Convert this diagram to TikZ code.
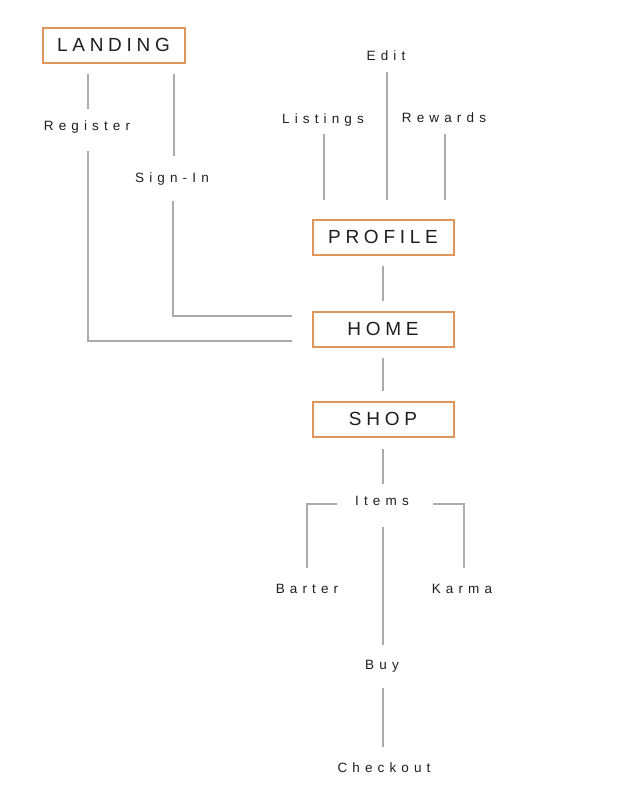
\documentclass[tikz,border=0pt]{standalone}
\usepackage{fontspec}
\setmainfont{Liberation Sans}
\newfontfamily\pagefont[LetterSpace=25]{Liberation Sans}
\newfontfamily\linkfont[LetterSpace=38]{Liberation Sans}
\usetikzlibrary{positioning}
\definecolor{boxorange}{HTML}{E0955A}
\definecolor{linkgray}{HTML}{ABABAB}
\definecolor{inkgray}{HTML}{1E1E1E}

\begin{document}
\begin{tikzpicture}[x=1pt,y=-1pt,
  page/.style={draw=boxorange,line width=2pt,minimum width=141pt,minimum height=35pt,
    inner sep=0pt,text=inkgray,font=\pagefont\fontsize{19}{22}\selectfont},
  label/.style={inner sep=0pt,outer sep=0pt,text height=9.6pt,text depth=0pt,
    text=inkgray,font=\linkfont\fontsize{13.5}{16}\selectfont},
  link/.style={draw=linkgray,line width=1.4pt}]
\useasboundingbox (0,0) rectangle (634,806);

% pages
\node[page,minimum width=142pt] (land) at (113.5,45) {LANDING};
\node[page] (prof) at (383,237) {PROFILE};
\node[page] (home) at (383,329) {HOME};
\node[page] (shop) at (383,419) {SHOP};

% labels
\node[label] (reg) at (87,126) {Register};
\node[label] (sign) at (172,178) {Sign-In};
\node[label] (edit) at (386,56) {Edit};
\node[label] (list) at (323,119) {Listings};
\node[label] (rew) at (444,118) {Rewards};
\node[label] (items) at (382,501) {Items};
\node[label] (bart) at (307,589) {Barter};
\node[label] (karma) at (462,589) {Karma};
\node[label] (buy) at (382,665) {Buy};
\node[label] (check) at (384,768) {Checkout};

% landing
\draw[link,shorten <=10pt,shorten >=17pt] ([xshift=1pt]land.south -| reg) -- ([xshift=1pt]reg.center);
\draw[link,shorten <=20.2pt,shorten >=20pt] ([xshift=1pt]reg.south) |- ([yshift=-12pt]home.west);
\draw[link,shorten <=10pt,shorten >=22pt] ([xshift=2pt]land.south -| sign) -- ([xshift=2pt]sign.center);
\draw[link,shorten <=18.2pt,shorten >=20pt] ([xshift=1pt]sign.south) |- ([yshift=13pt]home.west);

% profile
\draw[link,shorten <=11.2pt,shorten >=19pt] ([xshift=1pt]edit.south) -- ([xshift=1pt]edit.south |- prof.north);
\draw[link,shorten <=10.2pt,shorten >=19pt] ([xshift=1pt]list.south) -- ([xshift=1pt]list.south |- prof.north);
\draw[link,shorten <=11.2pt,shorten >=19pt] ([xshift=1pt]rew.south) -- ([xshift=1pt]rew.south |- prof.north);
\draw[link,shorten <=10pt,shorten >=10pt] (prof) -- (home);
\draw[link,shorten <=10pt,shorten >=10pt] (home) -- (shop);

% shop
\draw[link,shorten <=11pt,shorten >=12.2pt] (shop.south) -- (shop.south |- items.north);
\draw[link,shorten <=18pt,shorten >=16.2pt] ([yshift=-3pt]items.west) -| (bart.north);
\draw[link,shorten <=24pt,shorten >=16.2pt] ([yshift=-3pt]items.east) -| ([xshift=2pt]karma.north);
\draw[link,shorten <=21.2pt,shorten >=15.2pt] ([xshift=1pt]items.south) -- ([xshift=1pt]items.south |- buy.north);
\draw[link,shorten <=18.2pt,shorten >=16.2pt] ([xshift=1pt]buy.south) -- ([xshift=1pt]buy.south |- check.north);
\end{tikzpicture}
\end{document}
